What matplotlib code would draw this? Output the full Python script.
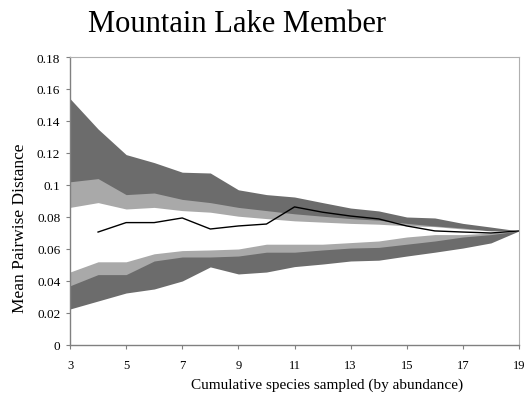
import matplotlib
matplotlib.use("Agg")
import matplotlib.pyplot as plt

# Cumulative number of species sampled (by abundance)
species = [3, 4, 5, 6, 7, 8, 9, 10, 11, 12, 13, 14, 15, 16, 17, 18, 19]

# Observed mean pairwise distance (starts at 4 species)
obs_x = [4, 5, 6, 7, 8, 9, 10, 11, 12, 13, 14, 15, 16, 17, 18, 19]
observed = [0.0706, 0.0765, 0.0765, 0.0794, 0.0725, 0.0744, 0.0756, 0.0863,
            0.0830, 0.0806, 0.0788, 0.0744, 0.0713, 0.0706, 0.0700, 0.0713]

# Outer envelope (dark band)
outer_hi = [0.154, 0.135, 0.119, 0.114, 0.108, 0.1075, 0.097, 0.094, 0.0925,
            0.089, 0.0856, 0.0838, 0.080, 0.0794, 0.076, 0.0737, 0.0713]
outer_lo = [0.0225, 0.0275, 0.0325, 0.035, 0.040, 0.0488, 0.0444, 0.0456, 0.049,
            0.0506, 0.0525, 0.053, 0.0556, 0.058, 0.0606, 0.0638, 0.0713]

# Inner envelope (light band)
inner_hi = [0.102, 0.104, 0.094, 0.095, 0.091, 0.089, 0.086, 0.084, 0.082,
            0.0805, 0.079, 0.078, 0.076, 0.0744, 0.0731, 0.0713, 0.0713]
inner_lo = [0.037, 0.044, 0.044, 0.0525, 0.055, 0.055, 0.0556, 0.058, 0.058,
            0.0594, 0.0606, 0.061, 0.063, 0.065, 0.0675, 0.069, 0.0713]

# Central region (white)
core_hi = [0.086, 0.089, 0.085, 0.086, 0.084, 0.083, 0.0805, 0.079, 0.0776,
           0.0768, 0.076, 0.0755, 0.0745, 0.074, 0.0725, 0.0713, 0.0713]
core_lo = [0.0456, 0.052, 0.052, 0.057, 0.059, 0.0594, 0.060, 0.063, 0.063,
           0.063, 0.064, 0.065, 0.0675, 0.069, 0.069, 0.070, 0.0713]

x_ticks = [3, 5, 7, 9, 11, 13, 15, 17, 19]
y_ticks = [0, 0.02, 0.04, 0.06, 0.08, 0.1, 0.12, 0.14, 0.16, 0.18]
y_labels = ["0", "0.02", "0.04", "0.06", "0.08", "0.1", "0.12", "0.14", "0.16", "0.18"]

dark = "#6c6c6c"
light = "#a9a9a9"
serif = ["Liberation Serif", "DejaVu Serif"]

fig = plt.figure(figsize=(5.30, 4.02), dpi=100)
ax = fig.add_axes([70 / 530, 1 - 346 / 402, 449 / 530, 288 / 402])

ax.fill_between(species, outer_lo, outer_hi, color=dark, linewidth=0)
ax.fill_between(species, inner_lo, inner_hi, color=light, linewidth=0)
ax.fill_between(species, core_lo, core_hi, color="white", linewidth=0)
ax.plot(obs_x, observed, color="black", linewidth=1.0)

ax.set_xlim(3, 19)
ax.set_ylim(0, 0.18)
ax.set_xticks(x_ticks)
ax.set_xticklabels([str(t) for t in x_ticks], fontfamily=serif, fontsize=9)
ax.set_yticks(y_ticks)
ax.set_yticklabels(y_labels, fontfamily=serif, fontsize=9.5)
ax.tick_params(axis="both", direction="out", length=3, width=0.8, color="#808080")
ax.tick_params(axis="x", pad=7)
ax.tick_params(axis="y", pad=4)

for side in ("left", "bottom"):
    ax.spines[side].set_color("#808080")
    ax.spines[side].set_linewidth(1.0)
for side in ("top", "right"):
    ax.spines[side].set_color("#b0b0b0")
    ax.spines[side].set_linewidth(0.8)

fig.text(237 / 530, 1 - 32 / 402, "Mountain Lake Member", fontfamily=serif,
         fontsize=22, ha="center", va="baseline")
fig.text(327 / 530, 1 - 385 / 402, "Cumulative species sampled (by abundance)",
         fontfamily=serif, fontsize=11, ha="center", va="center")
fig.text(20 / 530, 1 - 228 / 402, "Mean Pairwise Distance", fontfamily=serif,
         fontsize=12.5, ha="center", va="center", rotation=90)

fig.savefig("out.png", dpi=100)
